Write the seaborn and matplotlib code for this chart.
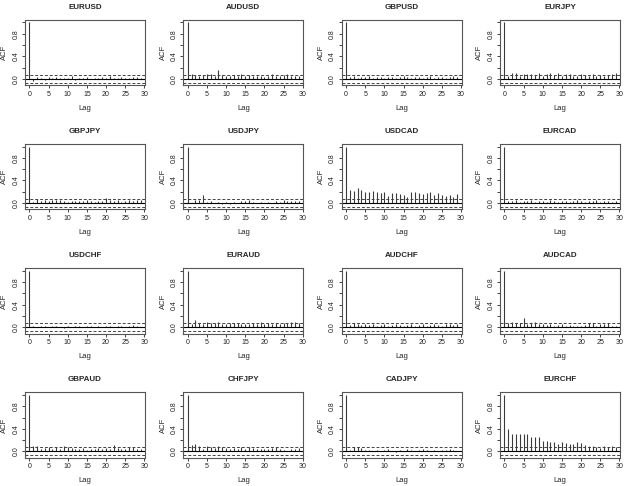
import numpy as np
import pandas as pd
import seaborn as sns
import matplotlib.pyplot as plt

# ACF of daily returns, lags 0..29
pairs = ['EURUSD', 'AUDUSD', 'GBPUSD', 'EURJPY',
         'GBPJPY', 'USDJPY', 'USDCAD', 'EURCAD',
         'USDCHF', 'EURAUD', 'AUDCHF', 'AUDCAD',
         'GBPAUD', 'CHFJPY', 'CADJPY', 'EURCHF']
lags = list(range(30))
clim = 0.07

eurusd = [1.0, -0.03, 0.04, 0.01, -0.02, 0.04, 0.02, 0.03, 0.02, 0.01, 0.02, 0.05, -0.02, 0.01, 0.02,
          0.04, -0.01, 0.02, 0.01, 0.03, 0.02, 0.05, 0.01, 0.02, 0.03, 0.01, 0.02, 0.04, 0.04, 0.02]
audusd = [1.0, 0.08, 0.07, 0.06, 0.07, 0.09, 0.09, 0.06, 0.16, 0.07, 0.06, 0.05, 0.07, 0.05, 0.09,
          0.06, 0.07, 0.06, 0.05, 0.06, 0.04, 0.06, 0.09, 0.05, 0.06, 0.07, 0.09, 0.06, 0.05, 0.06]
gbpusd = [1.0, 0.03, 0.05, 0.02, 0.04, 0.03, 0.05, 0.02, 0.04, 0.03, 0.01, 0.04, 0.03, 0.02, 0.04,
          0.05, 0.03, 0.02, 0.03, 0.04, 0.02, 0.03, 0.05, 0.02, 0.03, 0.04, 0.02, 0.03, 0.05, 0.03]
eurjpy = [1.0, 0.06, 0.1, 0.1, 0.05, 0.08, 0.09, 0.08, 0.07, 0.1, 0.06, 0.08, 0.11, 0.07, 0.11,
          0.06, 0.09, 0.08, 0.06, 0.05, 0.08, 0.07, 0.05, 0.08, 0.06, 0.07, 0.05, 0.07, 0.08, 0.11]
gbpjpy = [1.0, 0.02, 0.07, 0.03, 0.06, 0.04, 0.06, 0.05, 0.05, 0.03, 0.02, 0.04, 0.03, 0.04, 0.03,
          0.06, 0.04, 0.02, 0.03, 0.04, 0.09, 0.05, 0.03, 0.05, 0.02, 0.04, 0.05, 0.03, 0.05, 0.06]
usdjpy = [1.0, 0.01, 0.05, 0.05, 0.15, 0.02, 0.03, 0.01, 0.02, -0.01, 0.02, -0.02, 0.02, 0.01, 0.03,
          0.04, 0.05, 0.02, 0.01, 0.02, 0.01, 0.02, 0.01, 0.03, 0.02, 0.06, 0.04, 0.03, 0.04, 0.03]
usdcad = [1.0, 0.24, 0.22, 0.26, 0.23, 0.2, 0.19, 0.22, 0.19, 0.17, 0.19, 0.13, 0.17, 0.17, 0.16,
          0.14, 0.11, 0.19, 0.19, 0.17, 0.16, 0.17, 0.2, 0.15, 0.17, 0.15, 0.13, 0.14, 0.1, 0.16]
eurcad = [1.0, 0.04, 0.03, 0.05, 0.02, 0.04, 0.03, 0.05, 0.02, 0.03, 0.04, 0.02, 0.05, 0.03, 0.02,
          0.04, 0.03, 0.02, 0.04, 0.05, 0.03, 0.02, 0.04, 0.03, 0.05, 0.02, 0.03, 0.04, 0.02, 0.03]
usdchf = [1.0, 0.02, 0.01, 0.03, 0.02, 0.01, 0.02, 0.03, 0.01, -0.02, 0.02, 0.01, 0.03, 0.02, 0.01,
          0.02, 0.03, 0.01, 0.02, 0.01, 0.03, 0.02, 0.01, 0.02, 0.03, 0.01, 0.02, 0.04, 0.02, 0.01]
euraud = [1.0, 0.06, 0.12, 0.07, 0.06, 0.1, 0.08, 0.08, 0.09, 0.06, 0.05, 0.07, 0.07, 0.08, 0.06,
          0.05, 0.06, 0.07, 0.05, 0.09, 0.06, 0.07, 0.06, 0.08, 0.06, 0.07, 0.08, 0.09, 0.1, 0.07]
audchf = [1.0, 0.04, 0.08, 0.05, 0.04, 0.05, 0.04, 0.05, 0.03, 0.04, 0.05, 0.03, 0.04, 0.05, 0.04,
          0.03, 0.04, 0.05, 0.03, 0.04, 0.05, 0.03, 0.04, 0.05, 0.04, 0.03, 0.05, 0.06, 0.04, 0.05]
audcad = [1.0, 0.08, 0.09, 0.08, 0.08, 0.17, 0.05, 0.08, 0.09, 0.06, 0.06, 0.04, 0.05, 0.03, 0.04,
          0.05, 0.02, 0.04, 0.03, 0.02, 0.03, 0.04, 0.07, 0.07, 0.03, 0.05, 0.06, 0.07, 0.03, 0.02]
gbpaud = [1.0, 0.1, 0.09, 0.05, 0.06, 0.07, 0.05, 0.08, 0.05, 0.09, 0.08, 0.06, 0.05, 0.04, 0.06,
          0.03, 0.05, 0.04, 0.06, 0.05, 0.06, 0.05, 0.11, 0.06, 0.04, 0.05, 0.08, 0.07, 0.05, 0.04]
chfjpy = [1.0, 0.11, 0.14, 0.1, 0.05, 0.09, 0.08, 0.06, 0.09, 0.07, 0.06, 0.05, 0.06, 0.05, 0.07,
          0.05, 0.08, 0.06, 0.05, 0.04, 0.05, 0.04, 0.06, 0.08, 0.05, 0.03, 0.01, 0.04, 0.05, 0.06]
cadjpy = [1.0, 0.02, 0.07, 0.07, 0.06, 0.03, 0.02, 0.01, 0.02, 0.01, 0.02, 0.04, 0.01, -0.01, 0.02,
          0.01, 0.04, 0.02, 0.01, 0.02, 0.04, 0.02, 0.01, 0.03, 0.01, 0.02, 0.03, 0.04, 0.02, 0.01]
eurchf = [1.0, 0.39, 0.3, 0.3, 0.3, 0.3, 0.31, 0.25, 0.26, 0.25, 0.18, 0.19, 0.16, 0.16, 0.14,
          0.16, 0.15, 0.13, 0.13, 0.17, 0.15, 0.11, 0.09, 0.09, 0.08, 0.06, 0.09, 0.08, 0.09, 0.08]

series = [eurusd, audusd, gbpusd, eurjpy, gbpjpy, usdjpy, usdcad, eurcad,
          usdchf, euraud, audchf, audcad, gbpaud, chfjpy, cadjpy, eurchf]

df = pd.DataFrame({'pair': np.repeat(pairs, len(lags)),
                   'lag': lags * len(pairs),
                   'acf': np.concatenate(series)})

sns.set_theme(style='ticks')
plt.rcParams['font.family'] = ['Liberation Sans', 'DejaVu Sans']


def acf_spikes(data, color=None, **kws):
    ax = plt.gca()
    ax.vlines(data['lag'], 0, data['acf'], color='#3a3a3a', lw=0.8)
    ax.axhline(0, color='black', lw=0.8)
    # 95% band
    ax.axhline(clim, color='#2f2fd0', lw=0.7, ls=(0, (3, 2)))
    ax.axhline(-clim, color='#2f2fd0', lw=0.7, ls=(0, (3, 2)))


g = sns.FacetGrid(df, col='pair', col_wrap=4, col_order=pairs, sharex=False, sharey=False,
                  height=1.2, aspect=1.3, despine=False)
g.map_dataframe(acf_spikes)
g.set_titles('{col_name}', fontweight='bold', size=5.8, pad=8)
g.figure.set_size_inches(6.25, 4.86)
g.figure.subplots_adjust(left=0.04, right=0.992, top=0.959, bottom=0.058, wspace=0.32, hspace=0.9)

for ax in g.axes.flat:
    ax.set_xlim(-1.16, 30.16)
    ax.set_ylim(-0.113, 1.043)
    ax.set_xticks([0, 5, 10, 15, 20, 25, 30])
    ax.set_yticks([0.0, 0.2, 0.4, 0.6, 0.8, 1.0])
    ax.set_yticklabels(['0.0', '', '0.4', '', '0.8', ''], rotation=90, va='center')
    ax.tick_params(labelsize=5, length=2.5, width=0.6, pad=1.5, colors='#222222')
    ax.set_xlabel('Lag', fontsize=5.5, labelpad=5)
    ax.set_ylabel('ACF', fontsize=5.5, labelpad=3)
    for s in ax.spines.values():
        s.set_color('#555555')
        s.set_linewidth(0.8)

g.figure.savefig('out.png', dpi=100)
